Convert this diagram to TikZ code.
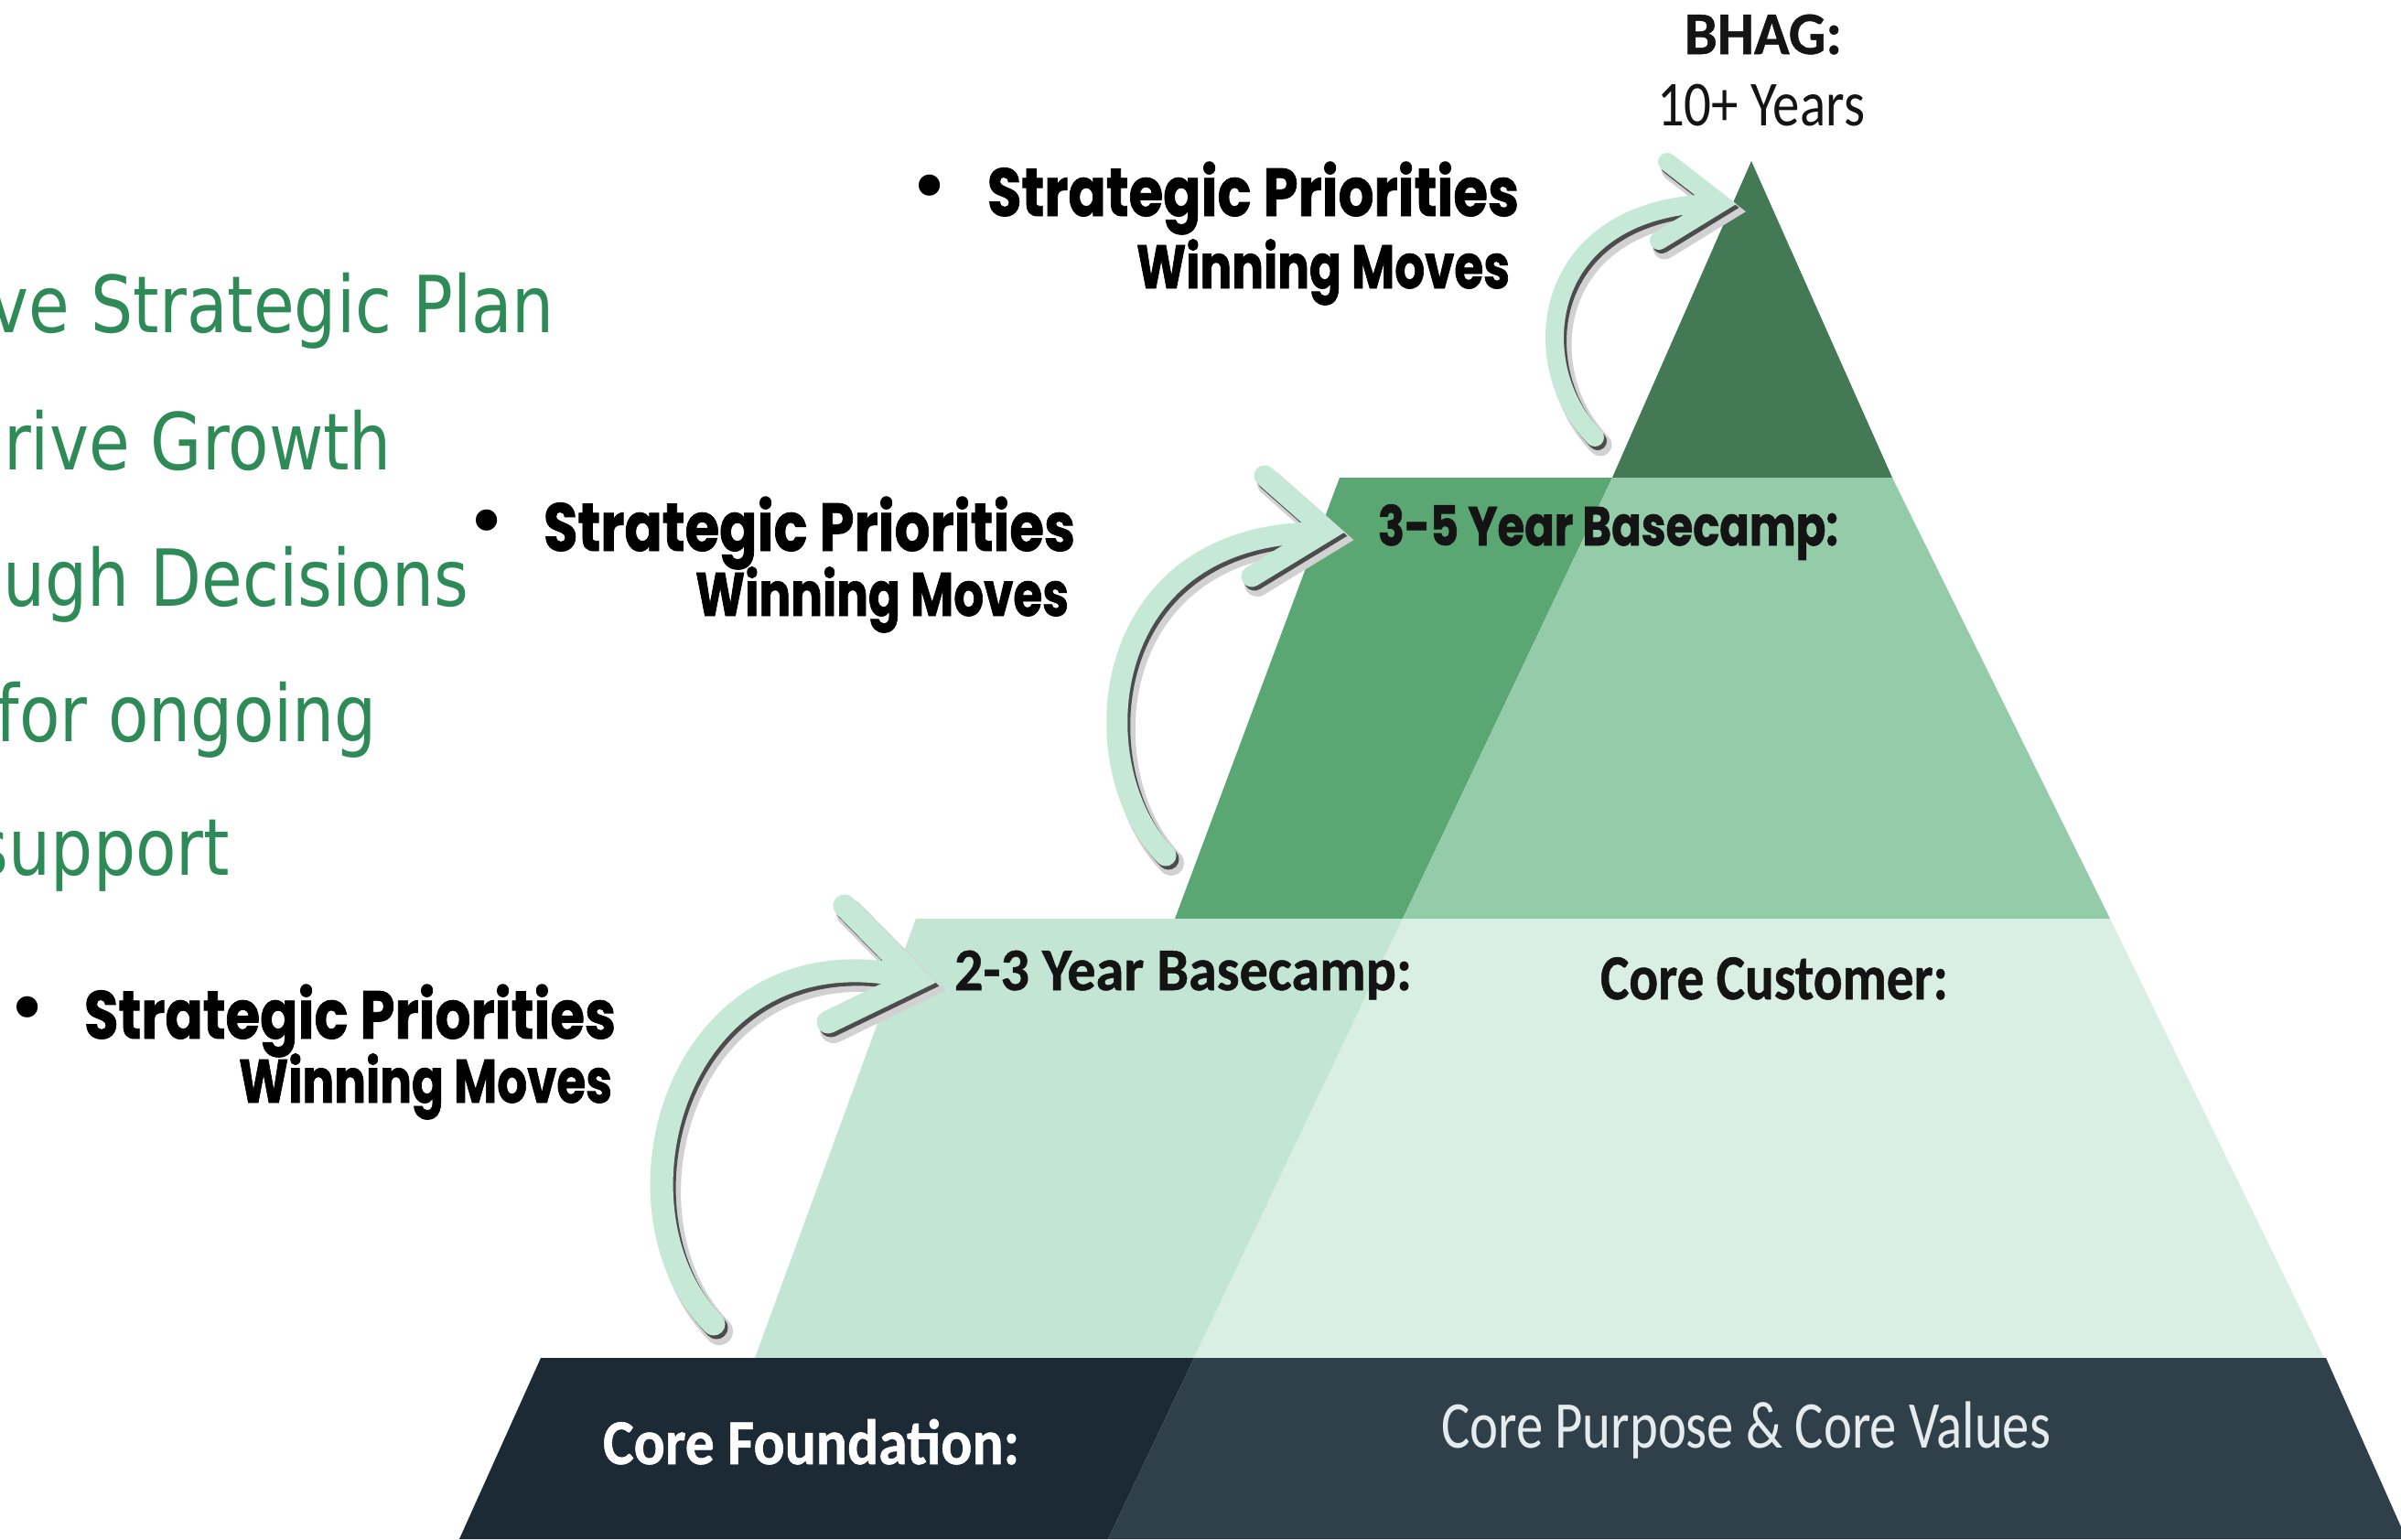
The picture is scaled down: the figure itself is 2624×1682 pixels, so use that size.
\documentclass[tikz,border=0pt]{standalone}
\usepackage{fontspec}
\usepackage{graphicx}
\newfontfamily\greenfont{DejaVu Sans}
\newfontfamily\popfont{Poppins}[BoldFeatures={FakeBold=1.2}]
\newfontfamily\carfont{Carlito}[BoldFeatures={FakeBold=0.8}]
\newfontfamily\dotfont{DejaVu Sans}
% squeeze a text horizontally to a given width, keeping its height
\newcommand\fitto[2]{\resizebox{#1pt}{\height}{#2}}
\newcommand\fsz[1]{\fontsize{#1}{#1}\selectfont}
% curved step arrow: soft shadow, dark rim, mint body
\newcommand\climbarrow[4]{%
  \begin{scope}[shift={(6,8)}]
    \draw[draw=black!18, line width=#2, line cap=round, line join=round] #3;
    \draw[draw=black!18, line width=#2, line cap=round, line join=miter] #4;
  \end{scope}
  \begin{scope}[shift={(3,4)}]
    \draw[draw=black!70, line width=#1, line cap=round, line join=round] #3;
    \draw[draw=black!70, line width=#1, line cap=round, line join=miter] #4;
  \end{scope}
  \draw[draw=mint, line width=#1, line cap=round, line join=round] #3;
  \draw[draw=mint, line width=#1, line cap=round, line join=miter] #4;
}

\definecolor{peak}{HTML}{437955}
\definecolor{midL}{HTML}{5BA773}
\definecolor{midR}{HTML}{94CBA8}
\definecolor{lowL}{HTML}{C2E5D4}
\definecolor{lowR}{HTML}{DAEFE3}
\definecolor{baseL}{HTML}{1C2A35}
\definecolor{baseR}{HTML}{2F404B}
\definecolor{mint}{HTML}{C5E8D7}
\definecolor{leaf}{HTML}{2E8B57}
\definecolor{ink}{HTML}{141414}
\definecolor{mist}{HTML}{E6ECEE}

\begin{document}
\begin{tikzpicture}[x=1pt,y=-1pt,
  lbl/.style={inner sep=0pt, outer sep=0pt},
  greenline/.style={lbl, anchor=base east, text=leaf, font=\greenfont\fsz{86}},
  prio/.style={lbl, anchor=base west, text=black, font=\popfont\bfseries\fsz{74}},
  moves/.style={lbl, anchor=base east, text=black, font=\popfont\bfseries\fsz{67}},
  dot/.style={lbl, anchor=center, text=black, font=\dotfont\fsz{80}},
  tierlbl/.style={lbl, anchor=base west, text=ink, font=\carfont\bfseries\fsz{66}}]

\fill[white] (0,0) rectangle (2624,1682);
\useasboundingbox (0,0) rectangle (2624,1682);

% ---- pyramid corners ----
\coordinate (apex) at (1914,176);
\coordinate (pkL) at (1762,522);
\coordinate (pkR) at (2068,522);
\coordinate (m1L) at (1464,522);
\coordinate (m2L) at (1284,1004);
\coordinate (m2D) at (1533,1004);
\coordinate (m2R) at (2306,1004);
\coordinate (l1L) at (1001,1004);
\coordinate (l2L) at (825,1484);
\coordinate (l2D) at (1305,1484);
\coordinate (l2R) at (2540,1484);
\coordinate (b1L) at (591,1484);
\coordinate (b1R) at (2542,1484);
\coordinate (b2L) at (502,1682);
\coordinate (b2D) at (1211,1682);
\coordinate (b2R) at (2630,1682);

% ---- pyramid tiers ----
\fill[peak] (apex) -- (pkR) -- (pkL) -- cycle;
\fill[midL] (m1L) -- (pkL) -- (m2D) -- (m2L) -- cycle;
\fill[midR] (pkL) -- (pkR) -- (m2R) -- (m2D) -- cycle;
\fill[lowL] (l1L) -- (m2D) -- (l2D) -- (l2L) -- cycle;
\fill[lowR] (m2D) -- (m2R) -- (l2R) -- (l2D) -- cycle;
\fill[baseL] (b1L) -- (l2D) -- (b2D) -- (b2L) -- cycle;
\fill[baseR] (l2D) -- (b1R) -- (b2R) -- (b2D) -- cycle;

% ---- tier labels ----
\node[lbl, anchor=base west, text=ink, font=\carfont\bfseries\fsz{66}] (bhag) at (1841,59) {\fitto{172}{BHAG:}};
\node[lbl, anchor=base west, text=ink, font=\carfont\fsz{70}] (years) at (1811,137) {\fitto{227}{10+ Years}};
\node[lbl, anchor=base west, text=ink, font=\popfont\bfseries\fsz{60}] (camp35) at (1506,596) {\fitto{503}{3-5 Year Basecamp:}};
\node[tierlbl] (camp23) at (1043,1082) {\fitto{500}{2-3 Year Basecamp:}};
\node[tierlbl, font=\carfont\bfseries\fsz{70}] (cust) at (1749,1092) {\fitto{380}{Core Customer:}};
\node[tierlbl, text=white, font=\carfont\bfseries\fsz{70}] (found) at (659,1600) {\fitto{455}{Core Foundation:}};
\node[tierlbl, text=mist, font=\carfont\fsz{73}] (purp) at (1575,1582) {\fitto{666}{Core Purpose \& Core Values}};

% ---- left column ----
\node[greenline] (g1) at (606,363) {\scalebox{0.845}[1]{ve Strategic Plan}};
\node[greenline] (g2) at (428,513) {\scalebox{0.845}[1]{rive Growth}};
\node[greenline] (g3) at (512,662) {\scalebox{0.845}[1]{ugh Decisions}};
\node[greenline] (g4) at (412,810) {\scalebox{0.845}[1]{for ongoing}};
\node[greenline] (g5) at (251,956) {\scalebox{0.845}[1]{support}};

% ---- priorities ----
\node[dot] (dA) at (1016,212) {•};
\node[prio] (pA) at (1079,236) {\fitto{581}{Strategic Priorities}};
\node[moves] (wA) at (1650,315) {\fitto{408}{Winning Moves}};

\node[dot] (dB) at (532,578) {•};
\node[prio] (pB) at (594,602) {\fitto{581}{Strategic Priorities}};
\node[moves] (wB) at (1168,673) {\fitto{408}{Winning Moves}};

\node[dot] (dC) at (30,1110) {•};
\node[prio] (pC) at (92,1135) {\fitto{581}{Strategic Priorities}};
\node[moves] (wC) at (669,1205) {\fitto{408}{Winning Moves}};

% ---- curved arrows between camps ----
\climbarrow{25}{30}{(780,1447) .. controls (655,1320) and (740,1010) .. (995,1068)}{(923,990) -- (1002,1070) -- (905,1117)}
\climbarrow{23}{28}{(1274,935) .. controls (1180,840) and (1195,580) .. (1445,582)}{(1382,520) -- (1450,580) -- (1368,630)}
\climbarrow{20}{25}{(1743,478) .. controls (1665,400) and (1680,225) .. (1876,222)}{(1822,177) -- (1880,222) -- (1813,263)}

\end{tikzpicture}
\end{document}
